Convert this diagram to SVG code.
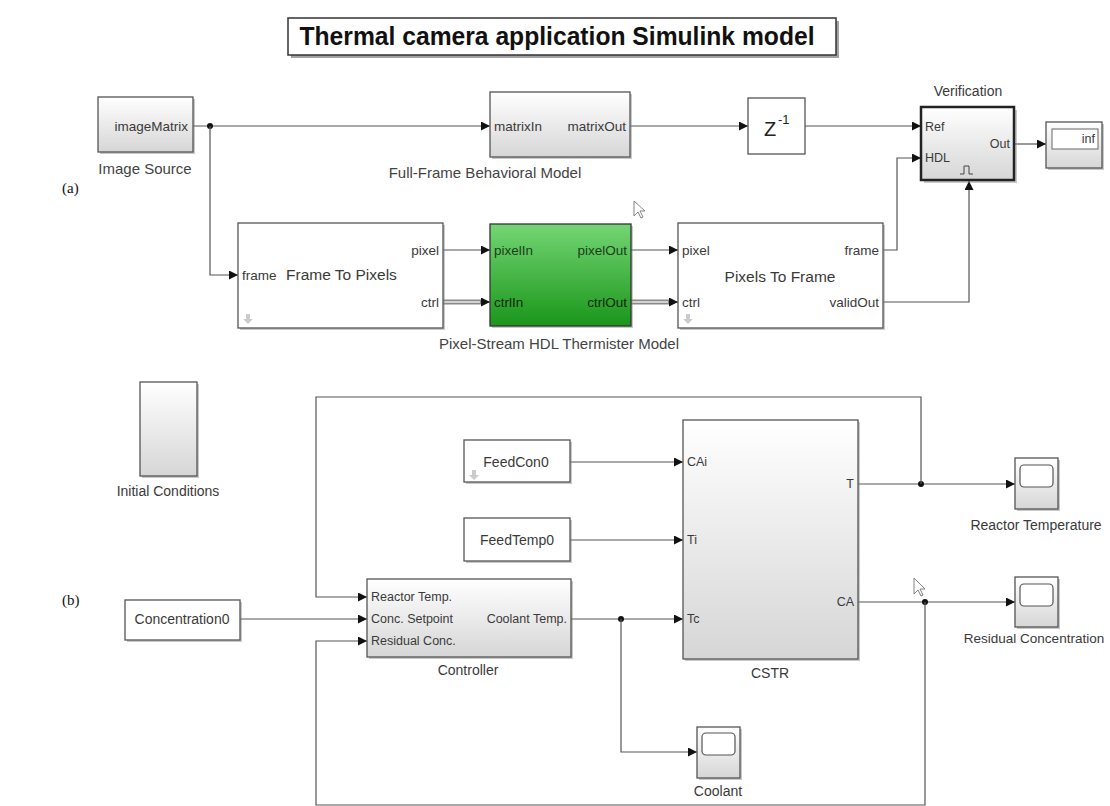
<svg xmlns="http://www.w3.org/2000/svg" width="1110" height="806" viewBox="0 0 1110 806">
<style>
text{font-family:"Liberation Sans",Arial,sans-serif;fill:#3a3a3a}
.p{font-size:13.5px}
.q{font-size:12.5px}
.b{font-size:14px}
.lbl{font-size:15px;fill:#444}
.blk{stroke:#555;stroke-width:1.3}
.sh{fill:#888;opacity:0.45}
.w{stroke:#555;stroke-width:1.2;fill:none}
.bus{stroke:#8a8a8a;stroke-width:5;fill:none}
.busi{stroke:#e8e8e8;stroke-width:1.6;fill:none}
.ser{font-family:"Liberation Serif","Times New Roman",serif;font-size:15px;fill:#111}
</style>
<defs>
<linearGradient id="g" x1="0" y1="0" x2="0" y2="1"><stop offset="0" stop-color="#ffffff"/><stop offset="1" stop-color="#d6d6d6"/></linearGradient>
<linearGradient id="gr" x1="0" y1="0" x2="0" y2="1"><stop offset="0" stop-color="#74d674"/><stop offset="1" stop-color="#1a961a"/></linearGradient>
<marker id="a" viewBox="0 0 10 10" refX="10" refY="5" markerWidth="10" markerHeight="9" markerUnits="userSpaceOnUse" orient="auto"><path d="M0,0 L10,5 L0,10 z" fill="#111"/></marker>
</defs>
<rect width="1110" height="806" fill="#fff"/>

<g id="title">
<rect x="291" y="21" width="548" height="37" fill="#666" opacity="0.6"/>
<rect x="288" y="18" width="548" height="37" fill="#fff" stroke="#333" stroke-width="1.5"/>
<text x="557" y="45" text-anchor="middle" textLength="515" lengthAdjust="spacingAndGlyphs" style="font-size:25px;font-weight:bold;fill:#111">Thermal camera application Simulink model</text>
</g>
<text class="ser" x="62" y="193">(a)</text>
<text class="ser" x="62" y="605">(b)</text>

<g id="connectors">
<line class="w" x1="193" y1="126" x2="490" y2="126" marker-end="url(#a)"/>
<circle cx="210" cy="126" r="3" fill="#111"/>
<polyline class="w" points="210,126 210,275 238,275" marker-end="url(#a)"/>
<line class="w" x1="630" y1="126" x2="748" y2="126" marker-end="url(#a)"/>
<line class="w" x1="805" y1="126" x2="921" y2="126" marker-end="url(#a)"/>
<line class="w" x1="1014" y1="144" x2="1046" y2="144" marker-end="url(#a)"/>
<line class="w" x1="443" y1="250" x2="490" y2="250" marker-end="url(#a)"/>
<line class="bus" x1="443" y1="302" x2="482" y2="302"/><line class="busi" x1="443" y1="302" x2="482" y2="302"/>
<line class="w" x1="480" y1="302" x2="490" y2="302" marker-end="url(#a)"/>
<line class="w" x1="631" y1="250" x2="678" y2="250" marker-end="url(#a)"/>
<line class="bus" x1="631" y1="302" x2="670" y2="302"/><line class="busi" x1="631" y1="302" x2="670" y2="302"/>
<line class="w" x1="668" y1="302" x2="678" y2="302" marker-end="url(#a)"/>
<polyline class="w" points="883,250 897,250 897,158 921,158" marker-end="url(#a)"/>
<polyline class="w" points="883,302 969,302 969,181" marker-end="url(#a)"/>

<line class="w" x1="570" y1="462" x2="683" y2="462" marker-end="url(#a)"/>
<line class="w" x1="570" y1="540" x2="683" y2="540" marker-end="url(#a)"/>
<line class="w" x1="571" y1="619" x2="683" y2="619" marker-end="url(#a)"/>
<circle cx="621" cy="619" r="3" fill="#111"/>
<polyline class="w" points="621,619 621,752 697,752" marker-end="url(#a)"/>
<line class="w" x1="240" y1="619" x2="367" y2="619" marker-end="url(#a)"/>
<line class="w" x1="858" y1="484" x2="1015" y2="484" marker-end="url(#a)"/>
<circle cx="921" cy="484" r="3" fill="#111"/>
<polyline class="w" points="921,484 921,397 316,397 316,597 367,597" marker-end="url(#a)"/>
<line class="w" x1="858" y1="602" x2="1015" y2="602" marker-end="url(#a)"/>
<circle cx="925" cy="602" r="3" fill="#111"/>
<polyline class="w" points="925,602 925,805 316,805 316,641 367,641" marker-end="url(#a)"/>
</g>

<g id="image-source">
<rect x="100" y="99" width="95" height="55" class="sh"/>
<rect x="98" y="97" width="95" height="55" fill="url(#g)" class="blk"/>
<text class="p" x="188" y="131" text-anchor="end">imageMatrix</text>
<text class="lbl" x="145" y="174" text-anchor="middle">Image Source</text>
</g>

<g id="full-frame">
<rect x="492" y="94" width="140" height="65" class="sh"/>
<rect x="490" y="92" width="140" height="65" fill="url(#g)" class="blk"/>
<text class="p" x="494" y="131">matrixIn</text>
<text class="p" x="626" y="131" text-anchor="end">matrixOut</text>
<text class="lbl" x="485" y="178" text-anchor="middle">Full-Frame Behavioral Model</text>
</g>

<g id="delay">
<rect x="748" y="98" width="57" height="56" fill="#fff" class="blk"/>
<text x="764" y="136" style="font-size:20px;fill:#222">Z</text>
<text x="778" y="124" style="font-size:13px;fill:#222">-1</text>
</g>

<g id="verification">
<text class="b" x="968" y="96" text-anchor="middle">Verification</text>
<rect x="924" y="110" width="93" height="73" class="sh"/>
<rect x="921" y="107" width="93" height="73" fill="url(#g)" stroke="#222" stroke-width="2.5"/>
<text class="q" x="925" y="131">Ref</text>
<text class="q" x="925" y="162">HDL</text>
<text class="q" x="1010" y="148" text-anchor="end">Out</text>
<path d="M960,174 H964 V166 H969 V174 H973" fill="none" stroke="#444" stroke-width="1"/>
</g>

<g id="display">
<rect x="1048" y="124" width="56" height="46" class="sh"/>
<rect x="1046" y="122" width="56" height="46" fill="url(#g)" class="blk"/>
<rect x="1052" y="129" width="46" height="20" fill="#fff" stroke="#666" stroke-width="1"/>
<text class="q" x="1095" y="143" text-anchor="end">inf</text>
</g>

<g id="frame-to-pixels">
<rect x="240" y="225" width="205" height="105" class="sh"/>
<rect x="238" y="223" width="205" height="105" fill="#fff" class="blk"/>
<text class="p" x="242" y="280">frame</text>
<text x="286" y="280" style="font-size:15.5px">Frame To Pixels</text>
<text class="p" x="439" y="255" text-anchor="end">pixel</text>
<text class="p" x="439" y="307" text-anchor="end">ctrl</text>
<path d="M246,314 h4 v5 h3 l-5,5 l-5,-5 h3 z" fill="#ccc"/>
</g>

<g id="hdl-model">
<rect x="492" y="226" width="141" height="102" class="sh"/>
<rect x="490" y="224" width="141" height="102" fill="url(#gr)" stroke="#333" stroke-width="1.3"/>
<text class="p" x="494" y="255" style="fill:#1d3d1d">pixelIn</text>
<text class="p" x="627" y="255" text-anchor="end" style="fill:#1d3d1d">pixelOut</text>
<text class="p" x="494" y="307" style="fill:#102810">ctrlIn</text>
<text class="p" x="627" y="307" text-anchor="end" style="fill:#102810">ctrlOut</text>
<text class="lbl" x="559" y="349" text-anchor="middle">Pixel-Stream HDL Thermister Model</text>
</g>

<g id="pixels-to-frame">
<rect x="680" y="225" width="205" height="105" class="sh"/>
<rect x="678" y="223" width="205" height="105" fill="#fff" class="blk"/>
<text class="p" x="682" y="255">pixel</text>
<text class="p" x="682" y="307">ctrl</text>
<text class="p" x="879" y="255" text-anchor="end">frame</text>
<text class="p" x="879" y="307" text-anchor="end">validOut</text>
<text x="780" y="282" text-anchor="middle" style="font-size:15.5px">Pixels To Frame</text>
<path d="M686,314 h4 v5 h3 l-5,5 l-5,-5 h3 z" fill="#ccc"/>
</g>

<g id="cursor1"><path d="M634,201 L634,216 L638,212 L641,218 L643,217 L640,211 L645,211 Z" fill="#fff" stroke="#777" stroke-width="0.9"/></g>

<g id="initial-conditions">
<rect x="142" y="384" width="57" height="94" class="sh"/>
<rect x="140" y="382" width="57" height="94" fill="url(#g)" class="blk"/>
<text class="b" x="168" y="496" text-anchor="middle">Initial Conditions</text>
</g>

<g id="feedcon0">
<rect x="466" y="442" width="106" height="42" class="sh"/>
<rect x="464" y="440" width="106" height="42" fill="#fff" class="blk"/>
<text class="b" x="516" y="467" text-anchor="middle">FeedCon0</text>
<path d="M472,470 h4 v5 h3 l-5,5 l-5,-5 h3 z" fill="#ccc"/>
</g>

<g id="feedtemp0">
<rect x="466" y="520" width="106" height="43" class="sh"/>
<rect x="464" y="518" width="106" height="43" fill="#fff" class="blk"/>
<text class="b" x="517" y="545" text-anchor="middle">FeedTemp0</text>
</g>

<g id="concentration0">
<rect x="127" y="602" width="115" height="40" class="sh"/>
<rect x="125" y="600" width="115" height="40" fill="#fff" class="blk"/>
<text class="b" x="182" y="624" text-anchor="middle">Concentration0</text>
</g>

<g id="controller">
<rect x="369" y="581" width="204" height="78" class="sh"/>
<rect x="367" y="579" width="204" height="78" fill="url(#g)" class="blk"/>
<text class="q" x="371" y="601">Reactor Temp.</text>
<text class="q" x="371" y="623">Conc. Setpoint</text>
<text class="q" x="371" y="645">Residual Conc.</text>
<text class="q" x="567" y="623" text-anchor="end">Coolant Temp.</text>
<text class="b" x="468" y="675" text-anchor="middle">Controller</text>
</g>

<g id="cstr">
<rect x="685" y="422" width="175" height="239" class="sh"/>
<rect x="683" y="420" width="175" height="239" fill="url(#g)" class="blk"/>
<text class="q" x="687" y="466">CAi</text>
<text class="q" x="687" y="544">Ti</text>
<text class="q" x="687" y="623">Tc</text>
<text class="q" x="854" y="488" text-anchor="end">T</text>
<text class="q" x="854" y="606" text-anchor="end">CA</text>
<text class="b" x="770" y="678" text-anchor="middle">CSTR</text>
</g>

<g id="reactor-temperature">
<rect x="1017" y="460" width="43" height="51" class="sh"/>
<rect x="1015" y="458" width="43" height="51" fill="url(#g)" class="blk"/>
<rect x="1020" y="465" width="33" height="22" rx="4" fill="#fff" stroke="#555" stroke-width="1.2"/>
<text class="b" x="1036" y="530" text-anchor="middle">Reactor Temperature</text>
</g>

<g id="residual-concentration">
<rect x="1017" y="579" width="43" height="50" class="sh"/>
<rect x="1015" y="577" width="43" height="50" fill="url(#g)" class="blk"/>
<rect x="1020" y="584" width="33" height="22" rx="4" fill="#fff" stroke="#555" stroke-width="1.2"/>
<text x="1034" y="643" text-anchor="middle" style="font-size:13.5px">Residual Concentration</text>
</g>

<g id="coolant">
<rect x="699" y="729" width="43" height="51" class="sh"/>
<rect x="697" y="727" width="43" height="51" fill="url(#g)" class="blk"/>
<rect x="702" y="733" width="33" height="22" rx="4" fill="#fff" stroke="#555" stroke-width="1.2"/>
<text class="b" x="718" y="796" text-anchor="middle">Coolant</text>
</g>

<g id="cursor2"><path d="M914,578 L914,594 L918,590 L921,596 L923,595 L920,589 L925,589 Z" fill="#fff" stroke="#777" stroke-width="0.9"/></g>
</svg>
